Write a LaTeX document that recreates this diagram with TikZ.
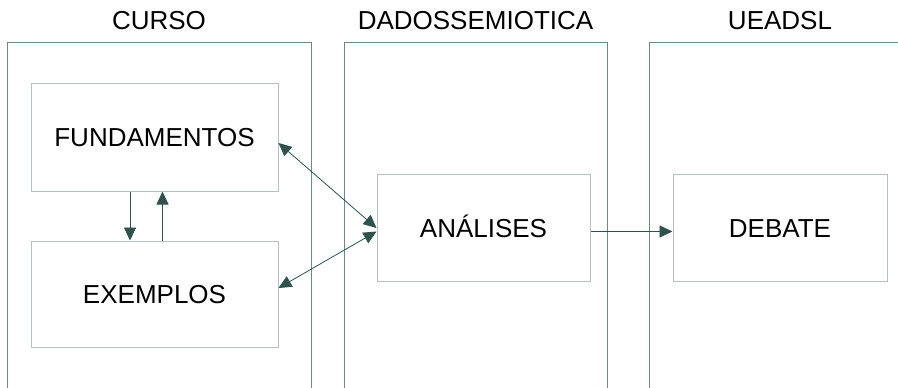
\documentclass[tikz,border=0pt]{standalone}
\usepackage{fontspec}
\setmainfont{Liberation Sans}
\usetikzlibrary{arrows.meta}
\definecolor{lanec}{HTML}{708986}
\definecolor{boxc}{HTML}{B6BEC8}
\definecolor{arrc}{HTML}{2F524F}
\begin{document}
\begin{tikzpicture}[x=1pt,y=-1pt,
  lane/.style={draw=lanec, line width=1pt, anchor=north west, inner sep=0pt, minimum height=370pt},
  box/.style={draw=boxc, line width=1pt, inner sep=0pt, text height=18.5pt, text depth=0pt, font=\fontsize{26}{31}\selectfont},
  lanetitle/.style={font=\fontsize{26}{31}\selectfont, inner sep=0pt, anchor=base},
  arr/.style={draw=arrc, line width=0.8pt, -{Triangle[length=13pt,width=12pt]}},
  arrboth/.style={draw=arrc, line width=0.8pt, {Triangle[length=13pt,width=12pt]}-{Triangle[length=13pt,width=12pt]}}
  ]
\useasboundingbox (0,0) rectangle (898,388);
\clip (0,0) rectangle (898,388);
\fill[white] (0,0) rectangle (898,388);

% lanes
\node[lane, minimum width=304pt] (curso) at (7,42) {};
\node[lane, minimum width=263pt] (dados) at (344,42) {};
\node[lane, minimum width=249pt] (ueadsl) at (649,42) {};

% titles
\node[lanetitle] (tcurso) at (159,30) {CURSO};
\node[lanetitle] (tdados) at (475.5,30) {DADOSSEMIOTICA};
\node[lanetitle] (tueadsl) at (780,30) {UEADSL};

% boxes
\node[box, minimum width=247pt, minimum height=108pt] (fund) at (154.5,137) {FUNDAMENTOS};
\node[box, minimum width=247pt, minimum height=106pt] (exem) at (154.5,294) {EXEMPLOS};
\node[box, minimum width=213pt, minimum height=107.5pt] (anal) at (483.5,228) {ANÁLISES};
\node[box, minimum width=214pt, minimum height=107.5pt] (deb) at (780,228) {DEBATE};

% connectors
\coordinate (dx) at (130,0);
\coordinate (ux) at (162.5,0);
\draw[arr] (fund.south -| dx) -- (exem.north -| dx);
\draw[arr] (exem.north -| ux) -- (fund.south -| ux);
\draw[arrboth] ([yshift=-6pt]fund.east) -- (anal.west);
\draw[arrboth] ([yshift=6pt]exem.east) -- ([yshift=-3.5pt]anal.west);
\draw[arr] ([yshift=-3.5pt]anal.east) -- ([yshift=-3.5pt]deb.west);
\end{tikzpicture}
\end{document}
